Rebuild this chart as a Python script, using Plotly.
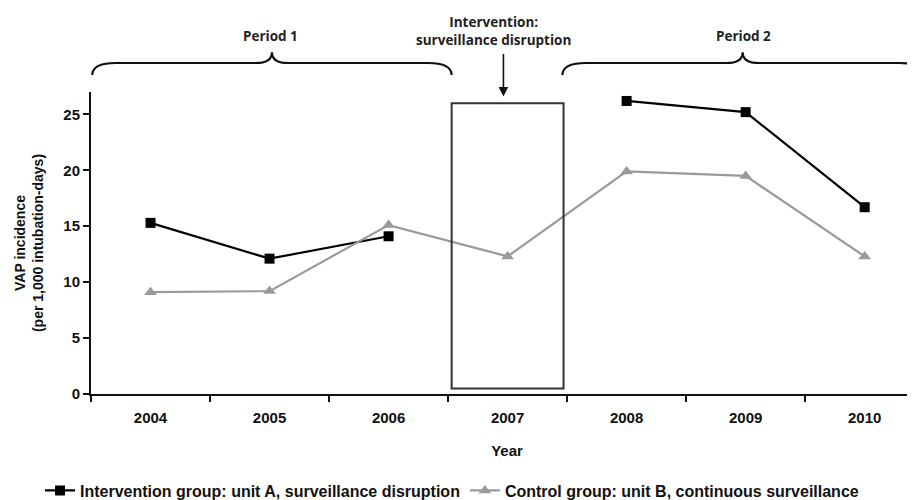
import plotly.graph_objects as go

years = ["2004", "2005", "2006", "2007", "2008", "2009", "2010"]
intervention = [15.3, 12.1, 14.1, None, 26.2, 25.2, 16.7]
control = [9.1, 9.2, 15.1, 12.3, 19.9, 19.5, 12.3]
y_ticks = [0, 5, 10, 15, 20, 25]

name_a = "Intervention group: unit A, surveillance disruption"
name_b = "Control group: unit B, continuous surveillance"

BOLD = "Liberation Sans"
TOPF = "Open Sans"

fig = go.Figure()
fig.add_trace(go.Scatter(
    x=years, y=intervention, name=name_a, mode="lines+markers",
    connectgaps=False,
    line=dict(color="#000000", width=2.2),
    marker=dict(symbol="square", size=10, color="#000000"),
))
fig.add_trace(go.Scatter(
    x=years, y=control, name=name_b, mode="lines+markers",
    line=dict(color="#9a9a9a", width=2.2),
    marker=dict(symbol="triangle-up", size=11, color="#9a9a9a"),
))

# intervention year box (2007)
fig.add_shape(type="rect", xref="x", yref="y", x0=2.53, x1=3.47, y0=0.5, y1=26.0,
              line=dict(color="#333333", width=2), fillcolor="rgba(0,0,0,0)", layer="above")

def brace(xa, xb, ye=1.056, yh=1.096, yt=1.132, de=0.2, dc=0.14):
    xc = (xa + xb) / 2
    return (f"M {xa},{ye} Q {xa},{yh} {xa+de},{yh} L {xc-dc},{yh} "
            f"Q {xc},{yh} {xc},{yt} Q {xc},{yh} {xc+dc},{yh} "
            f"L {xb-de},{yh} Q {xb},{yh} {xb},{ye}")

for xa, xb in [(-0.49, 2.53), (3.46, 6.49)]:
    fig.add_shape(type="path", xref="x", yref="paper", path=brace(xa, xb),
                  line=dict(color="#111111", width=2.2))

top_font = dict(family=TOPF, size=13.5, color="#222")
fig.add_annotation(x=1.01, y=1.222, xref="x", yref="paper", text="<b>Period 1</b>",
                   showarrow=False, font=top_font)
fig.add_annotation(x=4.98, y=1.222, xref="x", yref="paper", text="<b>Period 2</b>",
                   showarrow=False, font=top_font)
fig.add_annotation(x=2.88, y=1.268, xref="x", yref="paper",
                   text="<b>Intervention:<br>surveillance disruption</b>",
                   showarrow=False, font=top_font)
fig.add_annotation(x=2.965, y=0.985, xref="x", yref="paper", text="", showarrow=True,
                   ax=0, ay=-44, arrowhead=2, arrowsize=1.2, arrowwidth=1.6, arrowcolor="#111")

fig.update_layout(
    width=915, height=500,
    paper_bgcolor="white", plot_bgcolor="white",
    margin=dict(l=83, r=0, t=84, b=114),
    showlegend=True,
    legend=dict(orientation="h", xref="container", yref="container", x=0.035, y=0.035,
                xanchor="left", yanchor="middle",
                font=dict(family=BOLD, size=16, color="#111", weight="bold"),
                itemwidth=30, tracegroupgap=0),
    xaxis=dict(type="category", range=[-0.5, 6.49], showgrid=False, zeroline=False,
               showline=True, linecolor="#111", linewidth=2,
               ticks="outside", ticklen=6, tickwidth=2, tickcolor="#111",
               tickson="boundaries", ticklabelstandoff=9,
               tickfont=dict(family=BOLD, size=15, color="#111", weight="bold"),
               title=dict(text="<b>Year</b>", font=dict(family=BOLD, size=15, color="#111"),
                          standoff=20)),
    yaxis=dict(range=[0, 27], tickvals=y_ticks, showgrid=False, zeroline=False,
               showline=True, linecolor="#111", linewidth=2,
               ticks="outside", ticklen=6, tickwidth=2, tickcolor="#111",
               tickfont=dict(family=BOLD, size=15, color="#111", weight="bold"),
               title=dict(text="<b>VAP incidence<br>(per 1,000 intubation-days)</b>",
                          font=dict(family=BOLD, size=14, color="#111"), standoff=16)),
)

fig.write_html("out.html")
